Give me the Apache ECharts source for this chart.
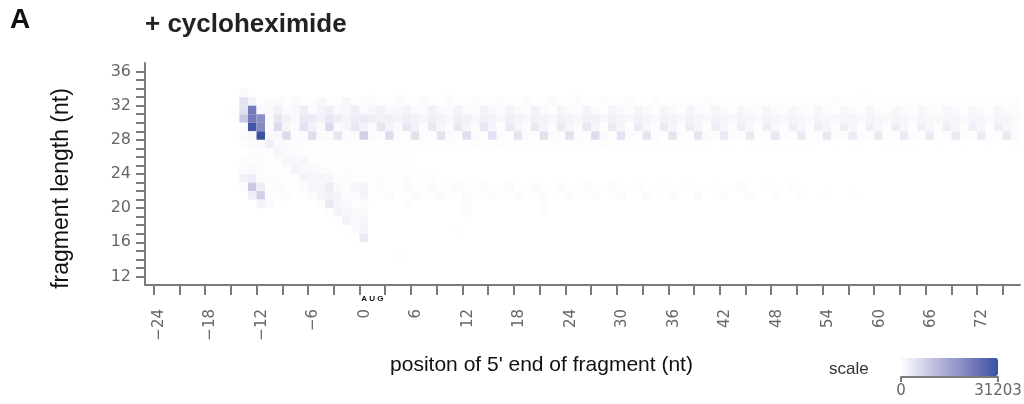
<!DOCTYPE html>
<html>
<head>
<meta charset="utf-8">
<script src="https://cdn.jsdelivr.net/npm/echarts@6/dist/echarts.min.js"></script>
<style>
    html, body { margin: 0; padding: 0; background: #fff; }
    #chart { width: 1024px; height: 404px; }
</style>
</head>
<body>
<div id="chart"></div>
<script>
// read counts per fragment length, every row starts at position -15
const firstPos = -15;

const len33 = [0, 800, 300,  0, 0, 0,  0, 0, 0,  0, 0, 0,  0, 0, 0,
    0, 200, 0,  0, 200, 0,  0, 0, 0,  0, 200, 0,  0, 0, 0,
    0, 0, 0,  0, 0, 0,  0, 0, 0,  0, 300, 0,  0, 0, 0,
    0, 0, 0,  0, 0, 0,  0, 0, 0,  0, 0, 0,  0, 0, 0,
    0, 0, 0,  0, 0, 0,  0, 0, 0,  0, 0, 0,  0, 400];

const len32 = [0, 4800, 2200,  300, 800, 800,  300, 800, 400,  300, 1400, 500,  400, 1300, 400,
    500, 800, 300,  400, 800, 300,  300, 700, 300,  200, 600, 200,  300, 700, 200,
    300, 700, 300,  200, 600, 200,  300, 600, 200,  300, 700, 200,  200, 500, 200,
    300, 600, 200,  200, 500, 200,  200, 500, 200,  200, 500, 200,  200, 400, 200,
    200, 500, 200,  200, 400, 100,  200, 400, 200,  200, 500, 100,  200, 400, 200,
    100, 400, 200,  200, 400, 100,  200, 400, 200,  100, 400, 200,  200, 400, 100,
    200, 300];

const len31 = [500, 4800, 23000,  800, 800, 2400,  700, 1100, 2800,  700, 2000, 2800,  800, 1500, 2600,
    900, 1300, 2400,  1000, 1300, 2200,  900, 600, 2300,  1000, 600, 2100,  900, 500, 2200,
    1000, 500, 2000,  900, 500, 2100,  900, 400, 1900,  800, 500, 2000,  900, 400, 1800,
    800, 400, 1900,  800, 400, 1700,  800, 400, 1800,  700, 400, 1700,  800, 300, 1600,
    700, 400, 1700,  700, 300, 1500,  700, 300, 1600,  600, 300, 1500,  700, 400, 1600,
    600, 300, 1400,  700, 300, 1500,  600, 300, 1400,  600, 300, 1500,  600, 300, 1400,
    600, 400];

const len30 = [300, 9000, 23000,  19500, 900, 3800,  2400, 1000, 3500,  3200, 2000, 3800,  2800, 2000, 2800,
    3400, 2800, 2400,  2800, 2000, 2800,  2200, 1600, 2700,  2100, 1500, 2600,  2300, 1500, 2500,
    2200, 1400, 2600,  2000, 1500, 2400,  2100, 1400, 2500,  2000, 1300, 2400,  2100, 1400, 2300,
    1900, 1300, 2300,  1800, 1200, 2200,  1900, 1300, 2100,  1700, 1200, 2000,  1600, 1100, 1900,
    1700, 1000, 1800,  1600, 1100, 1900,  1500, 1000, 1800,  1500, 1100, 1700,  1600, 1000, 1800,
    1400, 1000, 1700,  1500, 900, 1700,  1400, 1000, 1600,  1500, 900, 1700,  1400, 900, 1600,
    1500, 1000];

const len29 = [0, 400, 30200,  20000, 700, 5800,  1700, 600, 4800,  2400, 600, 6200,  800, 1300, 3800,
    2200, 700, 4200,  2000, 600, 3900,  2000, 500, 3900,  1700, 500, 3600,  1900, 500, 3800,
    1800, 400, 3500,  1700, 500, 3700,  1800, 400, 3400,  1700, 500, 3600,  1600, 400, 3300,
    1700, 400, 3200,  1500, 400, 3300,  1600, 400, 3000,  1500, 400, 2900,  1500, 400, 2800,
    1400, 400, 2900,  1500, 300, 2700,  1400, 400, 2800,  1400, 300, 2700,  1500, 400, 2600,
    1300, 300, 2800,  1400, 400, 2600,  1300, 300, 2700,  1400, 400, 2500,  1300, 300, 2700,
    1400, 500];

const len28 = [0, 700, 1200,  31203, 1000, 1200,  6000, 500, 700,  5500, 600, 600,  4200, 500, 700,
    7800, 600, 500,  5600, 500, 500,  5000, 700, 400,  4800, 700, 400,  5400, 600, 400,
    4900, 700, 400,  4600, 600, 400,  4900, 600, 300,  4800, 700, 400,  5600, 600, 400,
    4600, 600, 300,  4300, 600, 400,  4300, 500, 300,  4200, 600, 300,  3700, 500, 300,
    3600, 500, 300,  3800, 500, 300,  3500, 400, 300,  3600, 500, 300,  3400, 500, 300,
    3700, 400, 300,  3500, 500, 300,  3400, 400, 300,  3500, 500, 300,  3300, 400, 300,
    3600, 500];

const len27 = [0, 300, 800,  800, 2800, 800,  800, 500, 300,  400, 300, 400,  300, 400, 400,
    300, 400, 200,  300, 400, 200,  200, 400, 200,  200, 400, 100,  200, 400, 100,
    200, 300, 100,  100, 300, 100,  200, 300, 100,  100, 300, 100,  100, 300, 100,
    100, 300, 100,  100, 300, 0,  100, 200, 100,  100, 300, 0,  100, 200, 0,
    100, 200, 100,  0, 200, 0,  100, 200, 0,  0, 200, 0,  100, 200, 0,
    0, 200, 0,  100, 200, 0,  0, 200, 0,  0, 200, 0,  0, 200, 0,
    0, 200];

const len26 = [0, 0, 500,  500, 300, 1600,  800, 600, 400,  300, 200, 200,  200, 200, 300,
    200, 200, 100,  100, 0, 100];

const len25 = [0, 300, 500,  600, 300, 300,  1500, 1300, 1300,  500, 300, 200,  300, 200, 200,
    300, 200, 300,  100, 100, 200];

const len24 = [0, 700, 1000,  700, 200, 200,  300, 2000, 1000,  1000, 600, 500,  300, 300, 300,
    400, 200, 200,  200, 100, 100];

const len23 = [200, 2300, 3000,  700, 300, 300,  200, 300, 2000,  1300, 1600, 1300,  400, 700, 400,
    500, 300, 300,  200, 300, 600,  200, 100, 200];

const len22 = [0, 700, 8800,  2800, 300, 800,  300, 400, 700,  1800, 1600, 3200,  800, 500, 1300,
    1600, 300, 900,  200, 300, 900,  200, 200, 1000,  200, 300, 900,  300, 200, 900,
    100, 200, 800,  100, 200, 800,  100, 200, 700,  100, 100, 700,  100, 100, 700,
    100, 100, 500,  0, 100, 400,  0, 100, 400,  0, 0, 300,  0, 100, 600,
    0, 0, 300,  0, 0, 300];

const len21 = [0, 0, 2800,  7800, 600, 300,  500, 200, 300,  700, 2000, 2400,  2000, 500, 700,
    2000, 300, 300,  800, 200, 400,  800, 100, 200,  800, 100, 100,  800, 100, 100,
    700, 100, 100,  700, 100, 100,  700, 0, 100,  700, 100, 0,  600, 0, 100,
    600, 0, 0,  600, 100, 0,  600, 0, 0,  600, 0, 100,  500, 0, 0,
    500, 0, 0,  500, 0, 0,  300, 0, 0,  300, 0, 0,  300];

const len20 = [0, 0, 0,  2200, 800, 200,  0, 0, 0,  0, 300, 3500,  1300, 1000, 300,
    700, 200, 0,  0, 0, 500,  0, 0, 0,  0, 0, 0,  500, 0, 0,
    0, 0, 0,  0, 0, 0,  400];

const len19 = [0, 0, 0,  0, 0, 0,  0, 0, 0,  0, 0, 300,  2000, 1300, 800,
    800, 0, 0,  0, 0, 0,  0, 0, 0,  0, 0, 0,  500, 0, 0,
    0, 0, 0,  0, 0, 0,  400];

const len18 = [0, 0, 0,  0, 0, 0,  0, 0, 0,  0, 0, 0,  200, 2400, 800,
    1600];

const len17 = [0, 0, 0,  0, 0, 0,  0, 0, 0,  0, 0, 0,  0, 0, 800,
    2000, 0, 0,  0, 0, 0,  0, 0, 0,  0, 0, 300];

const len16 = [0, 0, 0,  0, 0, 0,  0, 0, 0,  0, 0, 0,  0, 0, 0,
    3500];

const len14 = [0, 0, 0,  0, 0, 0,  0, 0, 0,  0, 0, 0,  0, 0, 0,
    0, 0, 0,  0, 300];

const fragmentLengths = [33, 32, 31, 30, 29, 28, 27, 26, 25, 24, 23, 22, 21, 20, 19, 18, 17, 16, 14];
const countsByLength = [len33, len32, len31, len30, len29, len28, len27, len26, len25, len24,
    len23, len22, len21, len20, len19, len18, len17, len16, len14];

const maxCount = 31203;

// axis ticks and labels
const xTickValues = [-24, -21, -18, -15, -12, -9, -6, -3, 0, 3, 6, 9, 12, 15, 18, 21, 24, 27, 30, 33,
    36, 39, 42, 45, 48, 51, 54, 57, 60, 63, 66, 69, 72, 75];
const xLabelValues = [-24, -18, -12, -6, 0, 6, 12, 18, 24, 30, 36, 42, 48, 54, 60, 66, 72];
const yTickValues = [12, 13, 14, 15, 16, 17, 18, 19, 20, 21, 22, 23, 24, 25, 26, 27, 28, 29, 30,
    31, 32, 33, 34, 35, 36];
const yLabelValues = [12, 16, 20, 24, 28, 32, 36];
const scaleValues = [0, maxCount];
const augCentre = 1.5;

const cells = [];
fragmentLengths.forEach((len, r) => {
    countsByLength[r].forEach((count, i) => {
        if (count > 0) {
            cells.push([firstPos + i, len, count]);
        }
    });
});

const sansFont = "'Liberation Sans', Arial, sans-serif";
const tickFont = "'DejaVu Sans', sans-serif";
const axisGrey = '#7a7a7a';
const minusSign = v => String(v).replace('-', '\u2212');

const chart = echarts.init(document.getElementById('chart'));

chart.setOption({
    animation: false,
    backgroundColor: '#ffffff',
    title: [
        {
            text: 'A', left: 10, top: 6, padding: 0,
            textStyle: {fontFamily: sansFont, fontSize: 28, fontWeight: 'bold', color: '#111'}
        },
        {
            text: '+ cycloheximide', left: 145, top: 12, padding: 0,
            textStyle: {fontFamily: sansFont, fontSize: 26, fontWeight: 'bold', color: '#222'}
        },
        {
            text: 'scale', left: 829, top: 361, padding: 0,
            textStyle: {fontFamily: sansFont, fontSize: 17, fontWeight: 'normal', color: '#333'}
        }
    ],
    grid: [
        {left: 145, top: 63, width: 875, height: 222, outerBoundsMode: 'none'},
        {left: 901, top: 358, width: 97, height: 19, outerBoundsMode: 'none'}
    ],
    xAxis: [
        {
            type: 'value', gridIndex: 0, min: -25, max: 77,
            splitLine: {show: false},
            axisLine: {onZero: false, lineStyle: {color: axisGrey, width: 2}},
            axisTick: {customValues: xTickValues, length: 10, lineStyle: {color: axisGrey, width: 2}},
            axisLabel: {
                customValues: xLabelValues, rotate: 90, margin: 24,
                verticalAlign: 'top', lineHeight: 11,
                fontFamily: tickFont, fontSize: 15, color: '#666', formatter: minusSign
            },
            name: "positon of 5' end of fragment (nt)",
            nameLocation: 'middle', nameGap: 70, nameMoveOverlap: false,
            nameTextStyle: {fontFamily: sansFont, fontSize: 21, color: '#111', padding: [0, 82, 0, 0]}
        },
        {
            type: 'value', gridIndex: 1, min: 0, max: maxCount,
            splitLine: {show: false},
            axisLine: {onZero: false, lineStyle: {color: axisGrey, width: 2}},
            axisTick: {customValues: scaleValues, length: 5, lineStyle: {color: axisGrey, width: 2}},
            axisLabel: {
                customValues: scaleValues, margin: 7, fontFamily: tickFont, fontSize: 15, color: '#666',
                formatter: v => String(v)
            }
        }
    ],
    yAxis: [
        {
            type: 'value', gridIndex: 0, min: 11, max: 37,
            splitLine: {show: false},
            axisLine: {show: true, onZero: false, lineStyle: {color: axisGrey, width: 2}},
            axisTick: {show: true, customValues: yTickValues, length: 9, lineStyle: {color: axisGrey, width: 2}},
            axisLabel: {customValues: yLabelValues, margin: 14, fontFamily: tickFont, fontSize: 16, color: '#666'},
            name: 'fragment length (nt)',
            nameLocation: 'middle', nameGap: 72, nameMoveOverlap: false,
            nameTextStyle: {fontFamily: sansFont, fontSize: 23, color: '#111', padding: [0, 29, 0, 0]}
        },
        {type: 'value', gridIndex: 1, min: 0, max: 1, show: false}
    ],
    visualMap: {
        type: 'continuous', seriesIndex: 0, dimension: 2,
        min: 0, max: maxCount, calculable: false, hoverLink: false,
        orient: 'horizontal', left: 901, top: 358, padding: 0,
        itemWidth: 18, itemHeight: 97, text: null,
        inRange: {color: ['#ffffff', '#d0d0e8', '#a1a3d1', '#7179ba', '#3a51a3']}
    },
    series: [{
        type: 'custom',
        xAxisIndex: 0, yAxisIndex: 0,
        data: cells,
        encode: {x: 0, y: 1},
        renderItem: (params, api) => {
            const pos = api.value(0);
            const len = api.value(1);
            const topLeft = api.coord([pos, len + 1]);
            const bottomRight = api.coord([pos + 1, len]);
            return {
                type: 'rect',
                shape: {
                    x: topLeft[0], y: topLeft[1],
                    width: bottomRight[0] - topLeft[0], height: bottomRight[1] - topLeft[1]
                },
                style: {fill: api.visual('color')}
            };
        }
    }]
});

// start codon mark under the axis
const augX = chart.convertToPixel({xAxisIndex: 0}, augCentre);
const axisY = chart.convertToPixel({yAxisIndex: 0}, 11);
chart.setOption({
    graphic: [{
        type: 'text', x: augX, y: axisY + 14,
        style: {text: 'A U G', font: 'bold 8px ' + sansFont, fill: '#111', align: 'center', verticalAlign: 'middle'}
    }]
});
</script>
</body>
</html>
